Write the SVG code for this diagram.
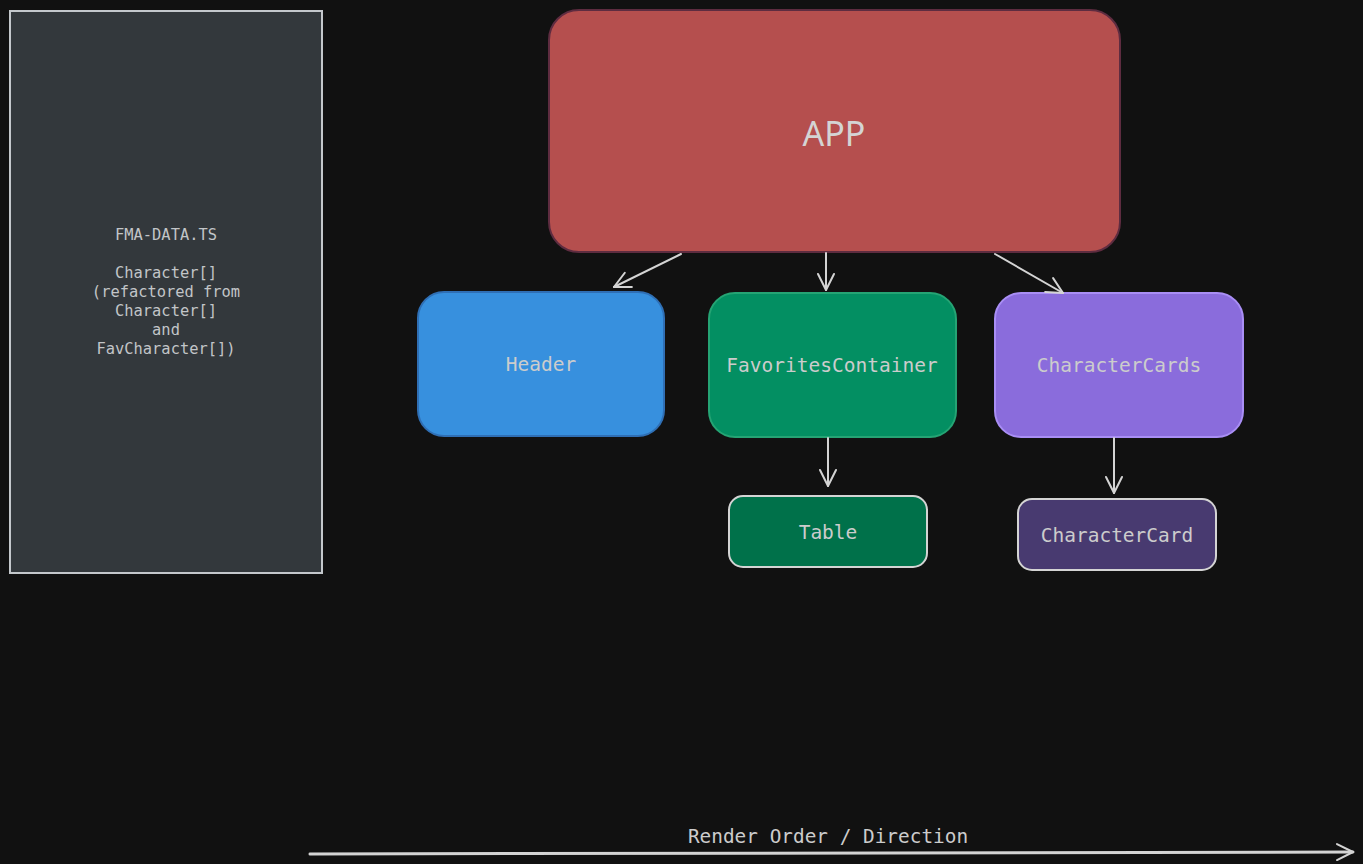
<svg xmlns="http://www.w3.org/2000/svg" width="1363" height="864" viewBox="0 0 1363 864">
<defs>
<style>
.mono{font-family:"DejaVu Sans Mono","Liberation Mono",monospace;fill:#cccccc;text-anchor:middle;dominant-baseline:central}
.edge{stroke:#d4d4d4;stroke-width:2;fill:none;stroke-linecap:round}
</style>
<marker id="ah" viewBox="0 0 20 20" refX="18" refY="10" markerWidth="20" markerHeight="20" markerUnits="userSpaceOnUse" orient="auto">
<path d="M2 2 L18 10 L2 18" fill="none" stroke="#d4d4d4" stroke-width="2" stroke-linecap="round" stroke-linejoin="round"/>
</marker>
</defs>
<rect width="1363" height="864" fill="#111111"/>
<g id="fma-data">
<rect x="10" y="11" width="312" height="562" fill="#33383c" stroke="#c4c8cc" stroke-width="2"/>
<text class="mono" font-size="15.4" x="166" style="fill:#c2c5c8"><tspan x="166" y="235">FMA-DATA.TS</tspan><tspan x="166" y="273">Character[]</tspan><tspan x="166" y="292">(refactored from</tspan><tspan x="166" y="311">Character[]</tspan><tspan x="166" y="330">and</tspan><tspan x="166" y="349">FavCharacter[])</tspan></text>
</g>
<g id="app">
<rect x="549" y="10" width="571" height="242" rx="30" fill="#b54f4e" stroke="#5e2c40" stroke-width="2"/>
<text x="834" y="133" font-family="'Noto Sans','Liberation Sans',sans-serif" font-size="34" fill="#d4d4d4" text-anchor="middle" dominant-baseline="central">APP</text>
</g>
<g id="header">
<rect x="418" y="292" width="246" height="144" rx="26" fill="#3790de" stroke="#2f6fb5" stroke-width="2"/>
<text class="mono" font-size="19.5" x="541" y="364">Header</text>
</g>
<g id="favorites">
<rect x="709" y="293" width="247" height="144" rx="26" fill="#038f62" stroke="#25a474" stroke-width="2"/>
<text class="mono" font-size="19.5" x="832" y="365">FavoritesContainer</text>
</g>
<g id="charactercards">
<rect x="995" y="293" width="248" height="144" rx="26" fill="#8a6cdc" stroke="#a98ef5" stroke-width="2"/>
<text class="mono" font-size="19.5" x="1119" y="365">CharacterCards</text>
</g>
<g id="table">
<rect x="729" y="496" width="198" height="71" rx="14" fill="#00714a" stroke="#d4d4d4" stroke-width="2"/>
<text class="mono" font-size="19.5" x="828" y="532">Table</text>
</g>
<g id="charactercard">
<rect x="1018" y="499" width="198" height="71" rx="14" fill="#483a70" stroke="#d4d4d4" stroke-width="2"/>
<text class="mono" font-size="19.5" x="1117" y="535">CharacterCard</text>
</g>
<g id="connectors">
<line class="edge" x1="681" y1="254" x2="614" y2="287" marker-end="url(#ah)"/>
<line class="edge" x1="826" y1="253" x2="826" y2="290" marker-end="url(#ah)"/>
<line class="edge" x1="995" y1="254" x2="1063" y2="293" marker-end="url(#ah)"/>
<line class="edge" x1="828" y1="438" x2="828" y2="486" marker-end="url(#ah)"/>
<line class="edge" x1="1114" y1="438" x2="1114" y2="493" marker-end="url(#ah)"/>
<line x1="310" y1="854" x2="1353" y2="852" stroke="#d4d4d4" stroke-width="3" stroke-linecap="round" marker-end="url(#ah)"/>
</g>
<text class="mono" font-size="19.4" x="828" y="836">Render Order / Direction</text>
</svg>
